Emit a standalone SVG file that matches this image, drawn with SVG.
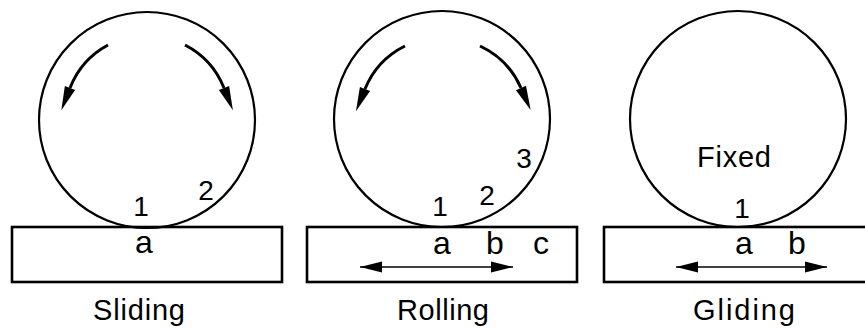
<svg xmlns="http://www.w3.org/2000/svg" width="865" height="329" viewBox="0 0 865 329">
  <defs>
    <style>
      .wheel { fill: none; stroke: #000; stroke-width: 2.2; }
      .base { fill: none; stroke: #000; stroke-width: 2.6; }
      .rot { fill: none; stroke: #000; stroke-width: 3; marker-end: url(#bigHead); }
      .move { fill: none; stroke: #000; stroke-width: 1.4; marker-start: url(#smallHeadStart); marker-end: url(#smallHead); }
      text { font-family: "Liberation Sans", Arial, sans-serif; fill: #000; text-anchor: middle; }
      .num { font-size: 28px; }
      .pt { font-size: 32px; }
      .title { font-size: 29px; }
    </style>
    <marker id="bigHead" markerUnits="userSpaceOnUse" markerWidth="26" markerHeight="12" refX="0" refY="5.5" orient="auto" overflow="visible">
      <path d="M0,0 L24,5.5 L0,11 z" fill="#000"/>
    </marker>
    <marker id="smallHead" markerUnits="userSpaceOnUse" markerWidth="24" markerHeight="12" refX="22" refY="5.5" orient="auto" overflow="visible">
      <path d="M0,0 L22,5.5 L0,11 z" fill="#000"/>
    </marker>
    <marker id="smallHeadStart" markerUnits="userSpaceOnUse" markerWidth="24" markerHeight="12" refX="0" refY="5.5" orient="auto" overflow="visible">
      <path d="M22,0 L0,5.5 L22,11 z" fill="#000"/>
    </marker>
  </defs>
  <rect x="0" y="0" width="865" height="329" fill="#fff"/>

  <g id="sliding">
    <circle class="wheel" cx="147" cy="120" r="108"/>
    <rect class="base" x="12" y="227" width="270" height="55"/>
    <text class="num" x="141" y="216">1</text>
    <text class="num" x="206" y="200">2</text>
    <text class="pt" x="144" y="253">a</text>
    <text class="title" x="139" y="320" textLength="92" lengthAdjust="spacing">Sliding</text>
  </g>

  <g id="rolling">
    <circle class="wheel" cx="442" cy="119" r="108"/>
    <rect class="base" x="307" y="227" width="270" height="55"/>
    <text class="num" x="440" y="216">1</text>
    <text class="num" x="487" y="205">2</text>
    <text class="num" x="524" y="168">3</text>
    <text class="pt" x="442" y="254">a</text>
    <text class="pt" x="495" y="254">b</text>
    <text class="pt" x="541" y="254">c</text>
    <text class="title" x="443" y="320" textLength="92" lengthAdjust="spacing">Rolling</text>
  </g>

  <g id="gliding">
    <circle class="wheel" cx="738" cy="119" r="108"/>
    <rect class="base" x="604" y="227" width="280" height="55"/>
    <text class="title" x="734" y="167" textLength="74" lengthAdjust="spacing">Fixed</text>
    <text class="num" x="742" y="218">1</text>
    <text class="pt" x="744" y="254">a</text>
    <text class="pt" x="797" y="254">b</text>
    <text class="title" x="744" y="320" textLength="102" lengthAdjust="spacing">Gliding</text>
  </g>

  <g id="connectors">
    <path class="rot" d="M108,45 A83,83 0 0,0 70,88"/>
    <path class="rot" d="M185,45 A83,83 0 0,1 224,88"/>
    <path class="rot" d="M405,46 A83,83 0 0,0 365,89"/>
    <path class="rot" d="M480,46 A83,83 0 0,1 521,88"/>
    <path class="move" d="M360,267 L513,267"/>
    <path class="move" d="M676,267 L827,267"/>
  </g>
</svg>
